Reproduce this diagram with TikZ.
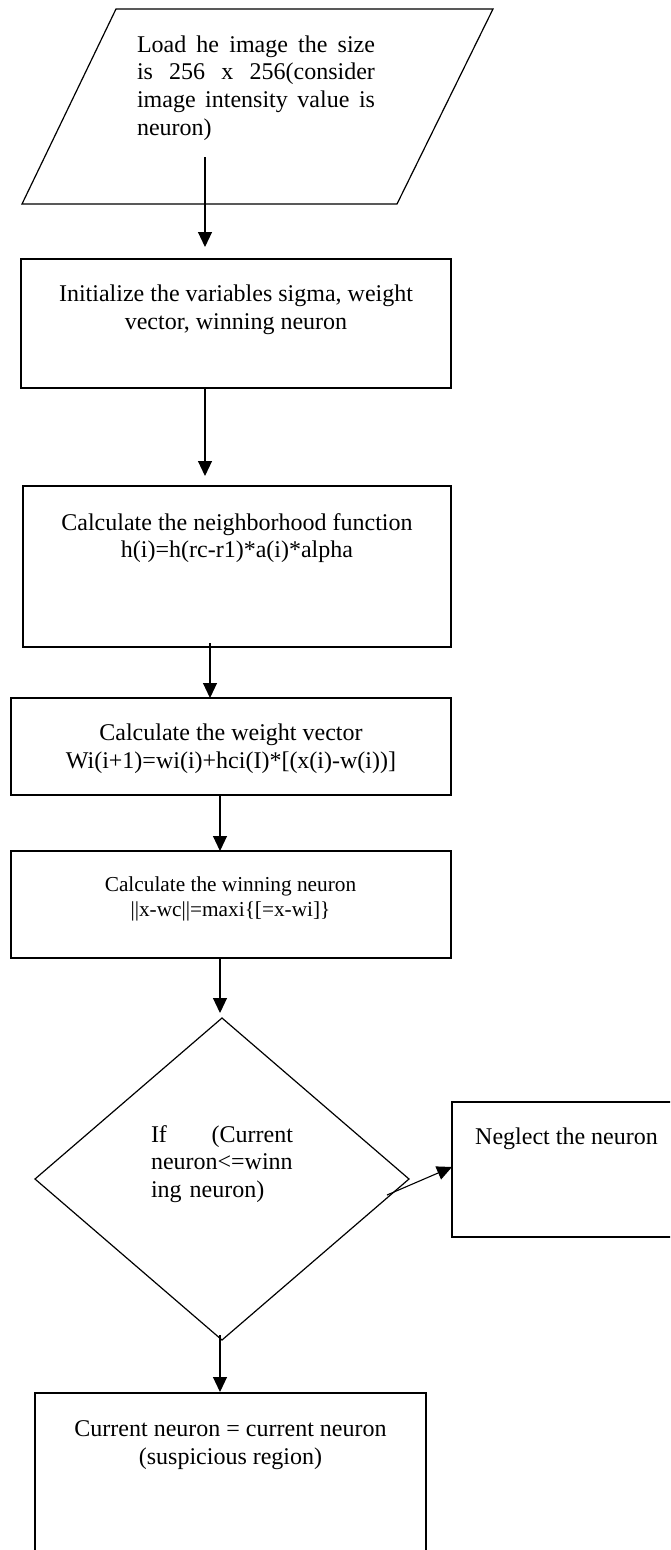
\documentclass[tikz,border=0pt]{standalone}
\usepackage{fontspec}
\setmainfont{Liberation Serif}
\usetikzlibrary{arrows.meta,shapes.geometric,calc}
\tikzset{
  box/.style={draw, line width=1.2pt, rectangle, inner sep=0pt, outer sep=0pt, anchor=north west},
  shapeline/.style={draw, line width=1.2pt, line join=miter},
  txt/.style={font=\fontsize{24}{27.6}\selectfont, align=center, inner sep=0pt},
  smalltxt/.style={font=\fontsize{21.3}{25}\selectfont, align=center, inner sep=0pt},
  arr/.style={line width=1.1pt, -{Triangle[length=15pt,width=14pt]}},
}
\begin{document}
\begin{tikzpicture}[x=1pt,y=-1pt]
\useasboundingbox (0,0) rectangle (670,1550);
\fill[white] (0,0) rectangle (670,1550);
\clip (0,0) rectangle (670,1550);

% input parallelogram
\coordinate (pTL) at (116,9);
\coordinate (pTR) at (493,9);
\coordinate (pBR) at (397,204);
\coordinate (pBL) at (22,204);
\draw[shapeline] (pTL) -- (pTR) -- (pBR) -- (pBL) -- cycle;
\node[txt, text width=238pt, align=left] (t1) at (256,88)
  {\makebox[238pt][l]{Load \hfill he \hfill image \hfill the \hfill size}\\
   \makebox[238pt][l]{is \hfill 256 \hfill x \hfill 256(consider}\\
   \makebox[238pt][l]{image \hfill intensity \hfill value \hfill is}\\
   neuron)};

% boxes
\node[box, minimum width=430pt, minimum height=129pt] (b2) at (21,259) {};
\node[txt] (t2) at (236,310) {Initialize the variables sigma, weight\\vector, winning neuron};

\node[box, minimum width=428pt, minimum height=161pt] (b3) at (23,486) {};
\node[txt] (t3) at (237,538) {Calculate the neighborhood function\\h(i)=h(rc-r1)*a(i)*alpha};

\node[box, minimum width=440pt, minimum height=97pt] (b4) at (11,698) {};
\node[txt] (t4) at (231,749) {Calculate the weight vector\\Wi(i+1)=wi(i)+hci(I)*[(x(i)-w(i))]};

\node[box, minimum width=440pt, minimum height=107pt] (b5) at (11,851) {};
\node[smalltxt] (t5) at (230.5,899) {Calculate the winning neuron\\||x-wc||=maxi\{[=x-wi]\}};

% decision
\node[draw, line width=1.2pt, diamond, minimum width=374pt, minimum height=322pt, inner sep=0pt, outer sep=0pt] (d) at (222,1179) {};
\node[txt, text width=142pt, align=left] (td) at (222,1164)
  {\makebox[142pt][l]{If \hfill (Current}\\neuron<=winn\\ing neuron)};

\node[box, minimum width=240pt, minimum height=135pt] (n) at (452,1102) {};
\node[txt] (tn) at (566.5,1139) {Neglect the neuron};

\node[box, minimum width=391pt, minimum height=200pt] (b7) at (35,1393) {};
\node[txt] (t7) at (230.5,1445) {Current neuron = current neuron\\(suspicious region)};

% connectors
\draw[arr] ([xshift=183pt,yshift=47pt]pBL) -- ([xshift=184pt,yshift=12pt]b2.north west);
\draw[arr] ([xshift=184pt]b2.south west) -- ([xshift=182pt,yshift=10pt]b3.north west);
\draw[arr] ([xshift=187pt,yshift=4pt]b3.south west) -- ([xshift=199pt]b4.north west);
\draw[arr] ([xshift=209pt]b4.south west) -- ([xshift=209pt]b5.north west);
\draw[arr] ([xshift=209pt]b5.south west) -- ([xshift=-2pt,yshift=5pt]d.north);
\draw[arr] ([xshift=-2pt,yshift=5pt]d.south) -- ([xshift=185pt,yshift=1pt]b7.north west);
\draw[arr] ([xshift=-22pt,yshift=-16pt]d.east) -- ([yshift=2.5pt]n.west);
\end{tikzpicture}
\end{document}
